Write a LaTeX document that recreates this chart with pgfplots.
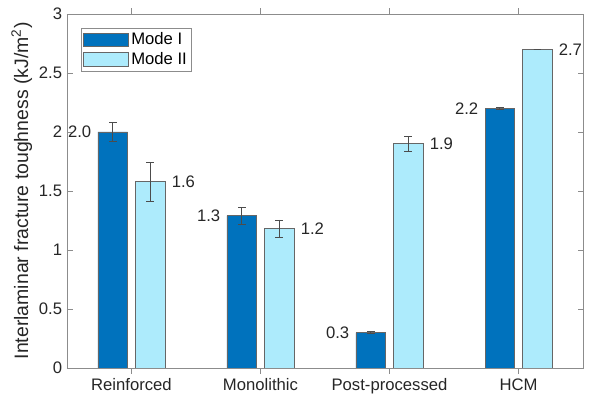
\documentclass[border=0pt]{standalone}
\usepackage{fontspec}
\setmainfont{Liberation Sans}
\usepackage{pgfplots}
\usepackage{pgfplotstable}
\pgfplotsset{compat=1.18}
\definecolor{modeI}{RGB}{0,114,189}
\definecolor{modeII}{RGB}{173,235,252}
\definecolor{axgray}{RGB}{38,38,38}
\pgfplotstableread{
x     y     err    lbl
0.855 2.00  0.08   2.0
1.855 1.29  0.07   1.3
2.855 0.30  0.01   0.3
3.855 2.20  0.005  2.2
}\modeone
\pgfplotstableread{
x     y     err    lbl
1.145 1.58  0.165  1.6
2.145 1.18  0.075  1.2
3.145 1.90  0.062  1.9
4.145 2.70  0      2.7
}\modetwo
\begin{document}
\begin{tikzpicture}
\begin{axis}[
  scale only axis,
  width=371.5pt, height=254.9pt,
  xmin=0.5, xmax=4.5, ymin=0, ymax=3,
  xtick={1,2,3,4},
  xticklabels={Reinforced,Monolithic,Post-processed,HCM},
  ytick={0,0.5,1,1.5,2,2.5,3},
  yticklabels={0,0.5,1,1.5,2,2.5,3},
  tick align=inside,
  major tick length=4pt,
  axis line style={black!45},
  tick style={black!45},
  tick label style={font=\fontsize{12}{14}\selectfont, text=axgray},
  ylabel={Interlaminar fracture toughness (kJ/m\textsuperscript{2})},
  ylabel style={font=\fontsize{14}{16}\selectfont, text=axgray},
  ylabel shift=-2pt,
  legend style={at={(0.028,0.96)}, anchor=north west, font=\fontsize{12}{14}\selectfont,
    draw=black!45, inner sep=1.2pt, row sep=0pt},
  legend cell align=left,
  ybar, bar width=0.23, bar shift=0pt,
  legend image code/.code={\draw[#1] (0pt,-5pt) rectangle (32pt,5pt);},
  nodes near coords style={font=\fontsize{12}{14}\selectfont, text=axgray},
  point meta=explicit symbolic,
]
\addplot[fill=modeI, draw=black!60, line width=0.5pt,
  error bars/.cd, y dir=both, y explicit,
  error bar style={black!70, line width=0.5pt},
  error mark options={rotate=90, mark size=2.7pt, black!70, line width=0.5pt}]
  table[x=x, y=y, y error=err, meta=lbl]{\modeone};
\addlegendentry{Mode I}
\addplot[fill=modeII, draw=black!60, line width=0.5pt,
  error bars/.cd, y dir=both, y explicit,
  error bar style={black!70, line width=0.5pt},
  error mark options={rotate=90, mark size=2.7pt, black!70, line width=0.5pt}]
  table[x=x, y=y, y error=err, meta=lbl]{\modetwo};
\addlegendentry{Mode II}
\addplot[draw=none, fill=none, nodes near coords,
  every node near coord/.append style={anchor=east, xshift=-12pt, yshift=0pt},
  forget plot]
  table[x=x, y=y, meta=lbl]{\modeone};
\addplot[draw=none, fill=none, nodes near coords,
  every node near coord/.append style={anchor=west, xshift=12pt},
  forget plot]
  table[x=x, y=y, meta=lbl]{\modetwo};
\end{axis}
\path ([xshift=-48.2pt,yshift=-22.3pt]current axis.south west) rectangle ([xshift=12.2pt,yshift=10pt]current axis.north east);
\end{tikzpicture}
\end{document}
